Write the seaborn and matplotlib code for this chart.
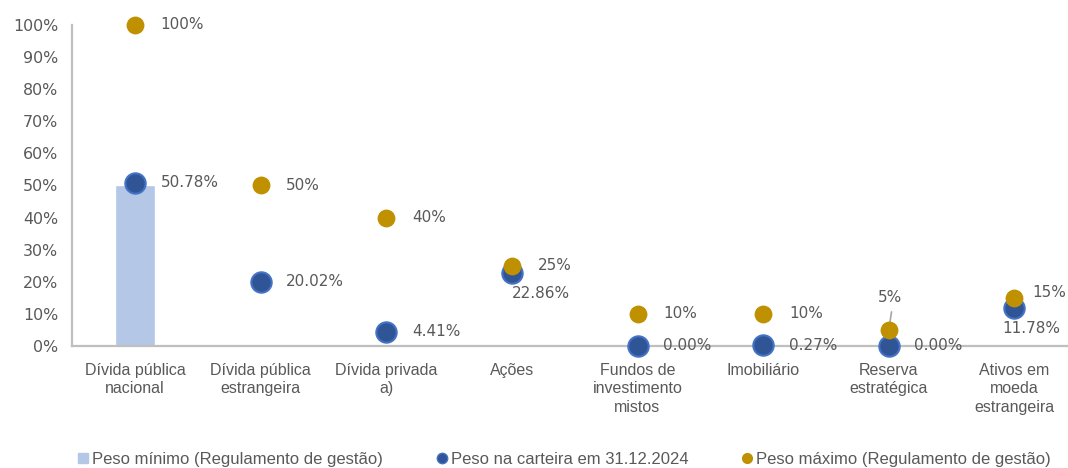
import matplotlib

matplotlib.use("Agg")
import matplotlib.pyplot as plt
import pandas as pd
import seaborn as sns
from matplotlib.lines import Line2D

# data
categories = [
    "Dívida pública\nnacional",
    "Dívida pública\nestrangeira",
    "Dívida privada\na)",
    "Ações",
    "Fundos de\ninvestimento\nmistos",
    "Imobiliário",
    "Reserva\nestratégica",
    "Ativos em\nmoeda\nestrangeira",
]
peso_minimo = [0.50, 0, 0, 0, 0, 0, 0, 0]
peso_carteira = [0.5078, 0.2002, 0.0441, 0.2286, 0.0, 0.0027, 0.0, 0.1178]
peso_maximo = [1.00, 0.50, 0.40, 0.25, 0.10, 0.10, 0.05, 0.15]
carteira_labels = ["50.78%", "20.02%", "4.41%", "22.86%", "0.00%", "0.27%", "0.00%", "11.78%"]
maximo_labels = ["100%", "50%", "40%", "25%", "10%", "10%", "5%", "15%"]
yticks = [0, 0.1, 0.2, 0.3, 0.4, 0.5, 0.6, 0.7, 0.8, 0.9, 1.0]
legend_labels = [
    "Peso mínimo (Regulamento de gestão)",
    "Peso na carteira em 31.12.2024",
    "Peso máximo (Regulamento de gestão)",
]

BAR = "#b4c7e7"
BLUE = "#2f5597"
BLUE_EDGE = "#4472c4"
GOLD = "#bf9000"
TXT = "#595959"
AXIS = "#bfbfbf"
NUM_FONT = ["DejaVu Sans"]

sns.set_theme(style="white")
plt.rcParams["font.family"] = ["Liberation Sans", "DejaVu Sans"]

df = pd.DataFrame(
    {
        "categoria": categories,
        "minimo": peso_minimo,
        "carteira": peso_carteira,
        "maximo": peso_maximo,
    }
)

fig = plt.figure(figsize=(10.68, 4.68), dpi=100)
ax = fig.add_axes([0.0676, 0.2607, 0.941, 0.686])

sns.barplot(data=df, x="categoria", y="minimo", order=categories, color=BAR,
            width=0.32, saturation=1, ax=ax)
sns.scatterplot(data=df, x="categoria", y="carteira", color=BLUE, s=215,
                edgecolor=BLUE_EDGE, linewidth=1.5, zorder=4, clip_on=False, ax=ax)
sns.scatterplot(data=df, x="categoria", y="maximo", color=GOLD, s=165,
                edgecolor=GOLD, linewidth=0, zorder=5, clip_on=False, ax=ax)

# label offsets in points (dx, dy, ha)
blue_off = {3: (0, -15, "left"), 7: (12, -14.5, "center")}
gold_off = {6: (1, 23, "center"), 7: (13, 4, "left")}

for i, cat in enumerate(categories):
    dx, dy, ha = blue_off.get(i, (18.5, 0, "left"))
    ax.annotate(carteira_labels[i], (i, peso_carteira[i]), xytext=(dx, dy),
                textcoords="offset points", ha=ha, va="center", family=NUM_FONT,
                fontsize=11, color=TXT, annotation_clip=False, zorder=6)
    dx, dy, ha = gold_off.get(i, (18.5, 0, "left"))
    ax.annotate(maximo_labels[i], (i, peso_maximo[i]), xytext=(dx, dy),
                textcoords="offset points", ha=ha, va="center", family=NUM_FONT,
                fontsize=11, color=TXT, annotation_clip=False, zorder=6)

# leader line for the 5% label
ax.annotate("", (6, peso_maximo[6]), xytext=(2, 13), textcoords="offset points",
            arrowprops=dict(arrowstyle="-", color="#a6a6a6", lw=1.2,
                            shrinkA=0, shrinkB=3))

ax.set_ylim(0, 1.0)
ax.set_xlim(-0.5, len(categories) - 0.5)
ax.set_yticks(yticks)
ax.set_yticklabels([f"{int(round(t * 100))}%" for t in yticks], family=NUM_FONT)
ax.set_xlabel("")
ax.set_ylabel("")
ax.tick_params(axis="both", length=0, labelcolor=TXT)
ax.tick_params(axis="y", pad=10, labelsize=11.4)
ax.tick_params(axis="x", pad=12, labelsize=11.5)
for lab in ax.get_xticklabels():
    lab.set_linespacing(1.3)
for side in ["top", "right"]:
    ax.spines[side].set_visible(False)
for side in ["left", "bottom"]:
    ax.spines[side].set_color(AXIS)
    ax.spines[side].set_linewidth(1.6)

handles = [
    Line2D([], [], marker="s", linestyle="", markersize=6.5, color=BAR),
    Line2D([], [], marker="o", linestyle="", markersize=7.5, color=BLUE,
           markeredgecolor=BLUE_EDGE),
    Line2D([], [], marker="o", linestyle="", markersize=7, color=GOLD),
]
leg = fig.legend(handles, legend_labels, loc="lower center", ncol=3,
                 bbox_to_anchor=(0.527, -0.03), frameon=False,
                 handletextpad=0.05, columnspacing=3.0, handlelength=1.0,
                 prop={"family": ["Liberation Sans"], "size": 12})
for t in leg.get_texts():
    t.set_color(TXT)

fig.savefig("out.png", dpi=100)
